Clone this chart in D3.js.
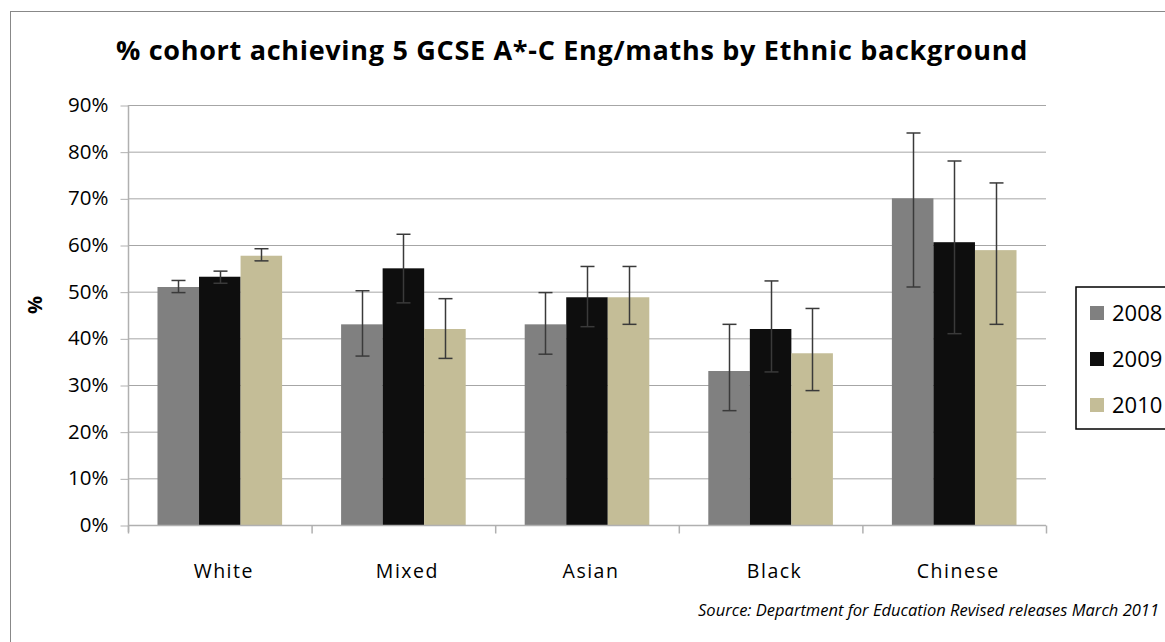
<!DOCTYPE html>
<html>
<head>
<meta charset="utf-8">
<script src="https://cdn.jsdelivr.net/npm/d3@7"></script>
<style>
  body { margin: 0; background: #fff; }
  svg { font-family: "Open Sans", "Noto Sans", sans-serif; }
</style>
</head>
<body>
<div id="chart"></div>
<script>
// categories and series
const categories = ['White', 'Mixed', 'Asian', 'Black', 'Chinese'];
const years = ['2008', '2009', '2010'];
const values2008 = [51, 43, 43, 33, 70];
const values2009 = [53.2, 55, 48.8, 42, 60.6];
const values2010 = [57.7, 42, 48.8, 36.8, 58.9];
// error bar ends (low / high)
const low2008 = [49.8, 36.2, 36.6, 24.5, 51];
const high2008 = [52.4, 50.2, 49.8, 43, 84];
const low2009 = [51.8, 47.6, 42.5, 32.8, 41];
const high2009 = [54.4, 62.3, 55.4, 52.3, 78];
const low2010 = [56.6, 35.7, 43, 28.8, 43];
const high2010 = [59.2, 48.5, 55.4, 46.4, 73.3];
const yTicks = [0, 10, 20, 30, 40, 50, 60, 70, 80, 90];

const colors = ['#808080', '#0e0e0e', '#c4bd97'];

const series = [
  { year: years[0], vals: values2008, lo: low2008, hi: high2008 },
  { year: years[1], vals: values2009, lo: low2009, hi: high2009 },
  { year: years[2], vals: values2010, lo: low2010, hi: high2010 }
];

const width = 1165, height = 642;
const svg = d3.select('#chart').append('svg')
  .attr('width', width)
  .attr('height', height);

// outer chart frame
svg.append('rect')
  .attr('x', 10.5).attr('y', 11.5)
  .attr('width', 1170).attr('height', 640)
  .attr('fill', 'none').attr('stroke', '#888').attr('stroke-width', 1);

// title
svg.append('text')
  .attr('x', 572).attr('y', 60)
  .attr('text-anchor', 'middle')
  .attr('font-size', 27).attr('font-weight', 'bold')
  .attr('letter-spacing', 0.7)
  .attr('fill', '#000')
  .text('% cohort achieving 5 GCSE A*-C Eng/maths by Ethnic background');

const plotLeft = 128, plotRight = 1046, plotTop = 105, plotBottom = 525;

const x = d3.scaleBand().domain(categories).range([plotLeft, plotRight]).paddingInner(0).paddingOuter(0);
const x1 = d3.scaleBand().domain(years).range([0, x.bandwidth()]).paddingInner(0).paddingOuter(0.71);
const y = d3.scaleLinear().domain([0, 90]).range([plotBottom, plotTop]);

// gridlines
svg.append('g')
  .selectAll('line')
  .data(yTicks.filter(d => d > 0))
  .join('line')
  .attr('x1', plotLeft).attr('x2', plotRight)
  .attr('y1', d => y(d) + 0.5).attr('y2', d => y(d) + 0.5)
  .attr('stroke', '#a6a6a6').attr('stroke-width', 1);

// y axis
const yAxis = svg.append('g')
  .attr('transform', `translate(${plotLeft + 0.5},0)`)
  .call(d3.axisLeft(y).tickValues(yTicks).tickSize(8).tickPadding(12).tickFormat(d => d + '%'));
yAxis.select('.domain').attr('stroke', '#b0b0b0').attr('stroke-width', 1.5)
  .attr('d', `M0,${plotTop}V${plotBottom + 7}`);
yAxis.selectAll('.tick line').attr('stroke', '#b0b0b0').attr('transform', 'translate(0,0.5)');
yAxis.selectAll('.tick text').attr('font-size', 20.5).attr('fill', '#000')
  .attr('font-family', '"Open Sans", sans-serif');

// y label
svg.append('text')
  .attr('transform', 'translate(42,305) rotate(-90)')
  .attr('text-anchor', 'middle')
  .attr('font-size', 20).attr('font-weight', 'bold')
  .text('%');

// bars
const groups = svg.append('g')
  .selectAll('g')
  .data(series)
  .join('g')
  .attr('fill', (d, i) => colors[i]);

groups.selectAll('rect')
  .data(s => s.vals.map((v, i) => ({ cat: categories[i], v, year: s.year })))
  .join('rect')
  .attr('x', d => x(d.cat) + x1(d.year))
  .attr('width', x1.bandwidth())
  .attr('y', d => y(d.v))
  .attr('height', d => plotBottom - y(d.v));

// x axis
const xAxis = svg.append('g').attr('transform', `translate(0,${plotBottom + 0.5})`);
xAxis.append('line')
  .attr('x1', plotLeft).attr('x2', plotRight)
  .attr('stroke', '#b0b0b0').attr('stroke-width', 1.5);
xAxis.selectAll('.cattick')
  .data(d3.range(categories.length + 1))
  .join('line')
  .attr('class', 'cattick')
  .attr('x1', i => plotLeft + 0.5 + i * x.bandwidth())
  .attr('x2', i => plotLeft + 0.5 + i * x.bandwidth())
  .attr('y1', 0).attr('y2', 8)
  .attr('stroke', '#b0b0b0').attr('stroke-width', 1.5);
xAxis.selectAll('text')
  .data(categories)
  .join('text')
  .attr('x', d => x(d) + x.bandwidth() / 2 + 4)
  .attr('y', 52)
  .attr('text-anchor', 'middle')
  .attr('font-size', 19.5)
  .attr('letter-spacing', 1.5)
  .text(d => d);

// error bars
const errs = svg.append('g');
series.forEach(s => {
  s.vals.forEach((v, i) => {
    const cx = Math.round(x(categories[i]) + x1(s.year) + x1.bandwidth() / 2) + 0.5;
    const g = errs.append('g').attr('stroke', '#3a3a3a').attr('stroke-width', 1.5);
    g.append('line').attr('x1', cx).attr('x2', cx).attr('y1', y(s.hi[i])).attr('y2', y(s.lo[i]));
    g.append('line').attr('x1', cx - 7).attr('x2', cx + 7).attr('y1', y(s.hi[i])).attr('y2', y(s.hi[i]));
    g.append('line').attr('x1', cx - 7).attr('x2', cx + 7).attr('y1', y(s.lo[i])).attr('y2', y(s.lo[i]));
  });
});

// legend
const legend = svg.append('g');
legend.append('rect')
  .attr('x', 1076).attr('y', 287)
  .attr('width', 120).attr('height', 142)
  .attr('fill', '#fff').attr('stroke', '#000').attr('stroke-width', 1.5);
const items = legend.selectAll('g.item')
  .data(years)
  .join('g')
  .attr('class', 'item')
  .attr('transform', (d, i) => `translate(1090,${313 + i * 46})`);
items.append('rect')
  .attr('x', 0).attr('y', -7).attr('width', 14).attr('height', 14)
  .attr('fill', (d, i) => colors[i]);
items.append('text')
  .attr('x', 22).attr('y', 8)
  .attr('font-size', 22)
  .text(d => d);

// source
svg.append('text')
  .attr('x', 1159).attr('y', 616)
  .attr('text-anchor', 'end')
  .attr('font-size', 16.5).attr('font-style', 'italic')
  .text('Source: Department  for Education Revised releases March 2011');
</script>
</body>
</html>
